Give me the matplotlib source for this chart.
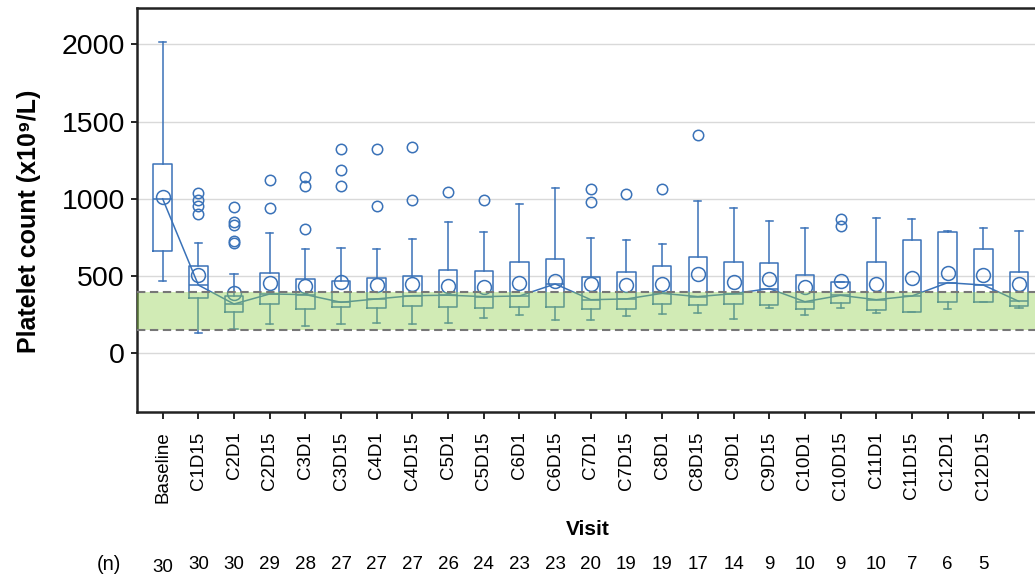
import numpy as np
import matplotlib
matplotlib.use("Agg")
import matplotlib.pyplot as plt
import matplotlib.transforms as mtransforms

plt.rcParams['font.family'] = ['Liberation Sans', 'DejaVu Sans']

# Data (platelet count, x10^9/L)
visits = ['Baseline', 'C1D15', 'C2D1', 'C2D15', 'C3D1', 'C3D15', 'C4D1', 'C4D15',
          'C5D1', 'C5D15', 'C6D1', 'C6D15', 'C7D1', 'C7D15', 'C8D1', 'C8D15',
          'C9D1', 'C9D15', 'C10D1', 'C10D15', 'C11D1', 'C11D15', 'C12D1', 'C12D15', '']
n_counts = [30, 30, 30, 29, 28, 27, 27, 27, 26, 24, 23, 23, 20, 19, 19, 17,
            14, 9, 10, 9, 10, 7, 6, 5]

whislo = [470, 129, 157, 192, 177, 188, 194, 190, 196, 227, 246, 214, 216, 244,
          257, 261, 224, 293, 248, 296, 259, 265, 289, 330, 291]
q1 = [664, 358, 265, 319, 287, 300, 296, 306, 300, 293, 302, 298, 287, 287,
      321, 315, 317, 315, 287, 328, 280, 265, 330, 334, 304]
medians = [1000, 442, 319, 384, 380, 330, 352, 373, 376, 367, 371, 449, 347, 352,
           388, 367, 386, 419, 334, 375, 347, 371, 457, 442, 336]
q3 = [1223, 567, 373, 518, 479, 470, 485, 503, 538, 535, 591, 611, 492, 524,
      567, 621, 589, 583, 505, 462, 591, 731, 783, 675, 524]
whishi = [2017, 716, 513, 777, 673, 682, 675, 740, 847, 783, 969, 1072, 744, 736,
          708, 986, 943, 859, 809, 462, 876, 872, 790, 813, 792]
means = [1010, 507, 388, 457, 436, 462, 442, 449, 436, 427, 455, 468, 449, 442,
         449, 513, 464, 479, 427, 470, 449, 490, 520, 505, 451]
fliers = [[], [1036, 992, 954, 902], [945, 852, 831, 729, 716], [1124, 938],
          [1143, 1085, 807], [1323, 1189, 1085], [1323, 956], [1338, 990],
          [1041], [992], [], [], [1066, 977], [1033], [1066], [1413],
          [], [], [], [869, 824], [], [], [], [], []]

ref_low, ref_high = 150, 400

blue = '#3a72b8'

fig = plt.figure(figsize=(10.35, 5.77), dpi=100)
ax = fig.add_axes([0.1327, 0.286, 0.8673, 0.700])

stats = []
for i in range(len(visits)):
    stats.append(dict(whislo=whislo[i], q1=q1[i], med=medians[i], q3=q3[i],
                      whishi=whishi[i], mean=means[i], fliers=fliers[i]))

pos = np.arange(len(visits))
ax.bxp(stats, positions=pos, widths=0.52, capwidths=0.2, showmeans=True,
       boxprops=dict(color=blue, lw=1.1),
       whiskerprops=dict(color=blue, lw=1.1),
       capprops=dict(color=blue, lw=1.1),
       medianprops=dict(color=blue, lw=1.1),
       meanprops=dict(marker='o', markerfacecolor='none', markeredgecolor=blue,
                      markersize=10, markeredgewidth=1.1),
       flierprops=dict(marker='o', markerfacecolor='none', markeredgecolor=blue,
                       markersize=7.5, markeredgewidth=1.1),
       manage_ticks=False, zorder=2)

# median trend line
ax.plot(pos, medians, color=blue, lw=1.1, zorder=2)

# reference range band
ax.axhspan(ref_low, ref_high, color='#92d050', alpha=0.42, lw=0, zorder=3)
for v in (ref_low, ref_high):
    ax.axhline(v, color='#777777', lw=1.5, ls=(0, (4, 2.2)), zorder=4)

ax.set_xlim(-0.71, 24.45)
ax.set_ylim(-380, 2235)
ax.set_yticks([0, 500, 1000, 1500, 2000])
ax.yaxis.grid(True, color='#d9d9d9', lw=1)
ax.set_axisbelow(True)

ax.set_xticks(pos)
ax.set_xticklabels(visits, rotation=90, fontsize=13.5)
ax.tick_params(axis='x', length=5, width=1.2, pad=9)
ax.tick_params(axis='y', length=4, width=1.2, pad=5, labelsize=20.5)

for s in ('left', 'top', 'bottom'):
    ax.spines[s].set_linewidth(1.8)
    ax.spines[s].set_color('#222222')
ax.spines['right'].set_visible(False)

ax.set_ylabel('Platelet count (x10⁹/L)', fontsize=18, fontweight='bold')
ax.yaxis.set_label_coords(-0.107, 0.473)
fig.text(0.568, 0.082, 'Visit', fontsize=15, fontweight='bold', ha='center', va='center')

# (n) row
trans = mtransforms.blended_transform_factory(ax.transData, fig.transFigure)
fig.text(0.105, 0.021, '(n)', fontsize=14.5, ha='center', va='center')
for i, n in enumerate(n_counts):
    yoff = 0.016 if i == 0 else 0.021
    ax.text(i, yoff, str(n), transform=trans, fontsize=13.5, ha='center', va='center',
            clip_on=False)

fig.savefig('out.png', dpi=100)
